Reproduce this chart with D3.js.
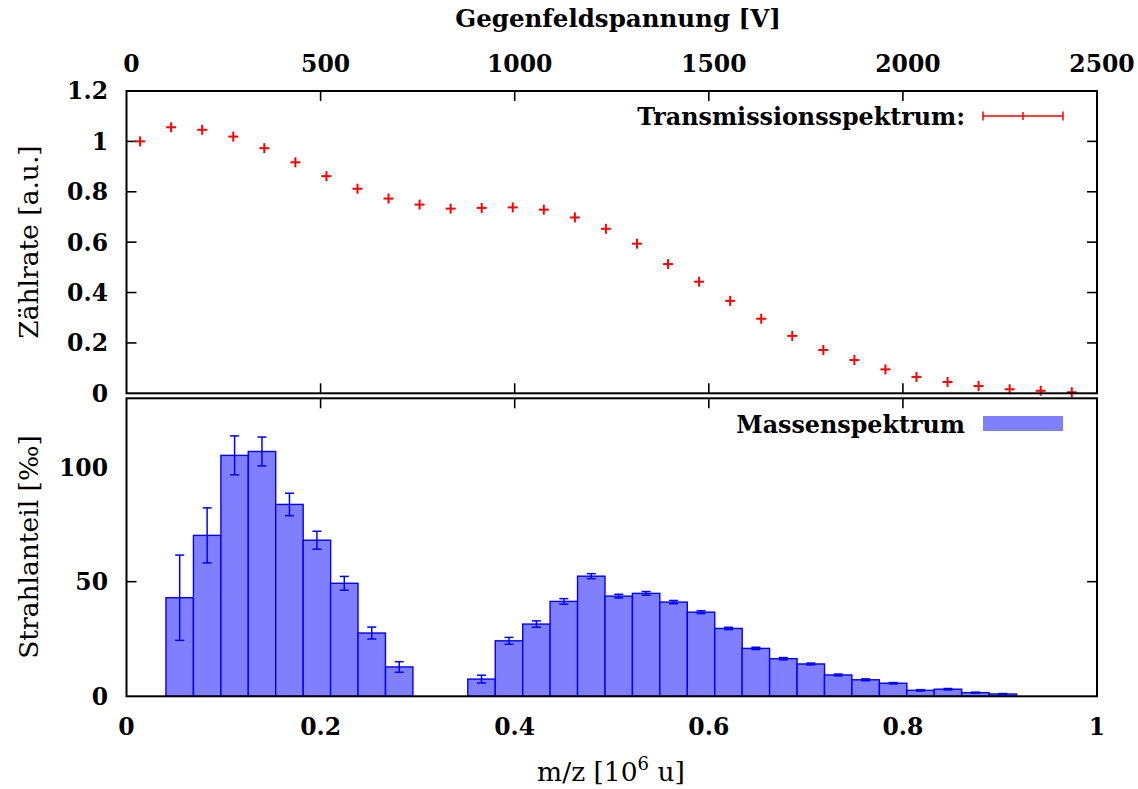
<!DOCTYPE html>
<html>
<head>
<meta charset="utf-8">
<script src="https://cdn.jsdelivr.net/npm/d3@7"></script>
<style>
  html, body { margin: 0; padding: 0; background: #fff; }
  svg { display: block; }
  text { font-family: "DejaVu Serif", "Liberation Serif", "Noto Serif", "Times New Roman", Times, serif; fill: #000; }
</style>
</head>
<body>
<svg id="chart" width="1138" height="789"></svg>
<script>
// Transmission spectrum: retarding voltage [V] and normalised count rate
const voltages = [35, 115, 195, 275, 355, 435, 515, 595, 675, 755, 835, 915, 995, 1075, 1155, 1235,
                  1315, 1395, 1475, 1555, 1635, 1715, 1795, 1875, 1955, 2035, 2115, 2195, 2275, 2355, 2435];
const countRate = [1.000, 1.056, 1.046, 1.019, 0.973, 0.917, 0.862, 0.812, 0.773, 0.749, 0.733, 0.736,
                   0.738, 0.729, 0.698, 0.653, 0.594, 0.513, 0.443, 0.367, 0.296, 0.228, 0.172, 0.132,
                   0.095, 0.065, 0.045, 0.029, 0.016, 0.010, 0.004];

// Mass spectrum: bin centres in m/z [10^6 u], beam fraction [‰] and its uncertainty
const mzCenters = [0.0548, 0.0831, 0.1114, 0.1396, 0.1679, 0.1962, 0.2244, 0.2527, 0.2810, 0.3093,
                   0.3375, 0.3658, 0.3941, 0.4224, 0.4506, 0.4789, 0.5072, 0.5354, 0.5637, 0.5920,
                   0.6203, 0.6485, 0.6768, 0.7051, 0.7333, 0.7616, 0.7899, 0.8182, 0.8464, 0.8747, 0.9030];
const binWidth = 0.02827;
const beamShare = [43.0, 70.2, 105.1, 106.8, 83.7, 68.1, 49.3, 27.6, 12.8, 0, 0, 7.5, 24.2, 31.5,
                   41.4, 52.4, 43.7, 44.9, 41.1, 36.7, 29.6, 20.9, 16.4, 14.1, 9.3, 7.2, 5.7, 2.6,
                   3.1, 1.6, 1.0];
const beamShareErr = [18.6, 12.0, 8.5, 6.3, 4.9, 3.9, 3.0, 2.6, 2.3, 0, 0, 1.7, 1.5, 1.4, 1.2, 1.1,
                      0.8, 0.8, 0.7, 0.6, 0.5, 0.5, 0.5, 0.4, 0.4, 0.4, 0.3, 0.3, 0.3, 0.2, 0.2];

// Tick values
const voltTicks = [0, 500, 1000, 1500, 2000, 2500];
const rateTicks = [0, 0.2, 0.4, 0.6, 0.8, 1, 1.2];
const mzTicks = [0, 0.2, 0.4, 0.6, 0.8, 1];
const shareTicks = [0, 50, 100];

const svg = d3.select("#chart");
const L = 126.5, R = 1097;
const top1 = 91, bot1 = 393.3;      // upper panel
const top2 = 398.3, bot2 = 696.3;   // lower panel
const TICK = 10;
const FS_TICK = 23.5, FS_TITLE = 24.5, FS_KEY = 23.8, FS_LABEL = 26.5;

const xV = d3.scaleLinear().domain([0, 2500]).range([L, R]);
const yRate = d3.scaleLinear().domain([0, 1.2]).range([bot1, top1]);
const xMz = d3.scaleLinear().domain([0, 1]).range([L, R]);
const yShare = d3.scaleLinear().domain([0, 130]).range([bot2, top2]);

const red = "#ff0000", blue = "#0000ff", fillBlue = "#8080ff";

function fmt(v) { return String(+v.toFixed(2)); }

// inward ticks on all four sides of a panel
function ticks(g, xs, xScale, ys, yScale, yTop, yBot) {
  g.selectAll(null).data(xs.slice(1, -1)).join("line")
    .attr("x1", d => xScale(d)).attr("x2", d => xScale(d))
    .attr("y1", yBot).attr("y2", yBot - TICK);
  g.selectAll(null).data(xs.slice(1, -1)).join("line")
    .attr("x1", d => xScale(d)).attr("x2", d => xScale(d))
    .attr("y1", yTop).attr("y2", yTop + TICK);
  g.selectAll(null).data(ys.slice(1, -1)).join("line")
    .attr("x1", L).attr("x2", L + TICK)
    .attr("y1", d => yScale(d)).attr("y2", d => yScale(d));
  g.selectAll(null).data(ys.slice(1, -1)).join("line")
    .attr("x1", R).attr("x2", R - TICK)
    .attr("y1", d => yScale(d)).attr("y2", d => yScale(d));
}

const tickG = svg.append("g").attr("stroke", "#000").attr("stroke-width", 1.6);
ticks(tickG, voltTicks, xV, rateTicks, yRate, top1, bot1);
ticks(tickG, mzTicks, xMz, shareTicks, yShare, top2, bot2);

// ---- upper panel: transmission spectrum ----
const pts = svg.append("g").attr("stroke", red).attr("stroke-width", 2);
voltages.forEach((v, i) => {
  const cx = xV(v), cy = yRate(countRate[i]);
  pts.append("line").attr("x1", cx - 5).attr("x2", cx + 5).attr("y1", cy).attr("y2", cy);
  pts.append("line").attr("x1", cx).attr("x2", cx).attr("y1", cy - 5).attr("y2", cy + 5);
});

// ---- lower panel: mass spectrum histogram ----
const bins = mzCenters.map((c, i) => ({ c, v: beamShare[i], e: beamShareErr[i] })).filter(d => d.v > 0);
svg.append("g").selectAll("rect").data(bins).join("rect")
  .attr("x", d => xMz(d.c - binWidth / 2))
  .attr("width", d => xMz(d.c + binWidth / 2) - xMz(d.c - binWidth / 2))
  .attr("y", d => yShare(d.v))
  .attr("height", d => yShare(0) - yShare(d.v))
  .attr("fill", fillBlue)
  .attr("stroke", blue).attr("stroke-width", 1.4);

const eb = svg.append("g").attr("stroke", blue).attr("stroke-width", 1.5);
bins.forEach(d => {
  const cx = xMz(d.c), y1 = yShare(d.v + d.e), y0 = yShare(d.v - d.e);
  eb.append("line").attr("x1", cx).attr("x2", cx).attr("y1", y1).attr("y2", y0);
  eb.append("line").attr("x1", cx - 4.5).attr("x2", cx + 4.5).attr("y1", y1).attr("y2", y1);
  eb.append("line").attr("x1", cx - 4.5).attr("x2", cx + 4.5).attr("y1", y0).attr("y2", y0);
});

// panel frames
svg.append("rect").attr("x", L).attr("y", top1).attr("width", R - L).attr("height", bot1 - top1)
  .attr("fill", "none").attr("stroke", "#000").attr("stroke-width", 2);
svg.append("rect").attr("x", L).attr("y", top2).attr("width", R - L).attr("height", bot2 - top2)
  .attr("fill", "none").attr("stroke", "#000").attr("stroke-width", 2);

// ---- tick labels ----
const lab = svg.append("g").attr("font-size", FS_TICK).attr("font-weight", "bold");
lab.selectAll(null).data(voltTicks).join("text")
  .attr("x", d => xV(d) + 5).attr("y", 72).attr("text-anchor", "middle").text(d => d);
lab.selectAll(null).data(rateTicks).join("text")
  .attr("x", 108).attr("y", d => yRate(d)).attr("dy", "0.36em").attr("text-anchor", "end").text(fmt);
lab.selectAll(null).data(shareTicks).join("text")
  .attr("x", 108).attr("y", d => yShare(d)).attr("dy", "0.36em").attr("text-anchor", "end").text(d => d);
lab.selectAll(null).data(mzTicks).join("text")
  .attr("x", d => xMz(d)).attr("y", 735).attr("text-anchor", "middle").text(fmt);

// ---- axis titles ----
svg.append("text").attr("x", 618).attr("y", 27).attr("text-anchor", "middle")
  .attr("font-size", FS_TITLE).attr("font-weight", "bold").text("Gegenfeldspannung [V]");

const mzLabel = svg.append("text").attr("x", 611).attr("y", 781).attr("text-anchor", "middle")
  .attr("font-size", FS_LABEL);
mzLabel.append("tspan").text("m/z [10");
mzLabel.append("tspan").attr("dy", -11).attr("font-size", 18).text("6");
mzLabel.append("tspan").attr("dy", 11).text(" u]");

svg.append("text").attr("transform", "translate(38,242) rotate(-90)").attr("text-anchor", "middle")
  .attr("font-size", FS_LABEL).text("Zählrate [a.u.]");
svg.append("text").attr("transform", "translate(38,547) rotate(-90)").attr("text-anchor", "middle")
  .attr("font-size", FS_LABEL).text("Strahlanteil [‰]");

// ---- legends ----
svg.append("text").attr("x", 965).attr("y", 116).attr("dy", "0.36em").attr("text-anchor", "end")
  .attr("font-size", FS_KEY).attr("font-weight", "bold").text("Transmissionsspektrum:");
const lg = svg.append("g").attr("stroke", red).attr("stroke-width", 1.5);
lg.append("line").attr("x1", 983).attr("x2", 1063).attr("y1", 116).attr("y2", 116);
lg.append("line").attr("x1", 983).attr("x2", 983).attr("y1", 111.5).attr("y2", 120.5);
lg.append("line").attr("x1", 1063).attr("x2", 1063).attr("y1", 111.5).attr("y2", 120.5);
lg.append("line").attr("x1", 1023).attr("x2", 1023).attr("y1", 112).attr("y2", 120);

svg.append("text").attr("x", 965).attr("y", 424).attr("dy", "0.36em").attr("text-anchor", "end")
  .attr("font-size", FS_KEY).attr("font-weight", "bold").text("Massenspektrum");
svg.append("rect").attr("x", 983).attr("y", 416).attr("width", 80).attr("height", 15)
  .attr("fill", fillBlue);
</script>
</body>
</html>
